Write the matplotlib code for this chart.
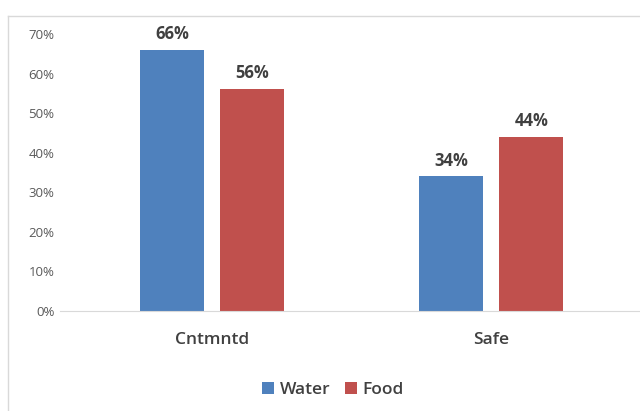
import matplotlib
matplotlib.use('Agg')
import matplotlib.pyplot as plt
from matplotlib.lines import Line2D
import numpy as np

# Chart data
categories = ['Cntmntd', 'Safe']
water = [0.66, 0.34]
food = [0.56, 0.44]
series_names = ['Water', 'Food']
yticks = [0, 0.1, 0.2, 0.3, 0.4, 0.5, 0.6, 0.7]

blue = '#4f81bd'
red = '#c0504d'
plt.rcParams['font.family'] = ['Open Sans', 'DejaVu Sans']

fig = plt.figure(figsize=(6.4, 4.11), dpi=100)
# outer chart border (partly cut off like the screenshot)
fig.add_artist(Line2D([8/640, 8/640], [0, 1 - 16/411], color='#d9d9d9', lw=1))
fig.add_artist(Line2D([8/640, 1], [1 - 16/411, 1 - 16/411], color='#d9d9d9', lw=1))

ax = fig.add_axes([60/640, 100/411, 580/640, 277/411])
x = np.arange(len(categories))
w = 0.229
off = 0.144
b1 = ax.bar(x - off, water, w, color=blue, label=series_names[0])
b2 = ax.bar(x + off, food, w, color=red, label=series_names[1])

for bars, vals in [(b1, water), (b2, food)]:
    for r, v in zip(bars, vals):
        ax.annotate('%d%%' % round(v * 100), (r.get_x() + r.get_width() / 2, v),
                    xytext=(0, 5), textcoords='offset points', ha='center', va='bottom',
                    fontsize=12, fontweight='bold', color='#404040', annotation_clip=False)

ax.set_xlim(-0.545, 1.534)
ax.set_ylim(0, 0.7)
ax.set_yticks(yticks)
ax.set_yticklabels(['%d%%' % round(t * 100) for t in yticks], fontsize=9.5, color='#595959')
ax.set_xticks(x)
ax.set_xticklabels(categories, fontsize=12.5, fontweight='semibold', color='#404040')
ax.tick_params(axis='x', length=0, pad=15)
ax.tick_params(axis='y', length=0, pad=4)
for s in ['top', 'right', 'left']:
    ax.spines[s].set_visible(False)
ax.spines['bottom'].set_color('#d9d9d9')

ax.legend(loc='center', bbox_to_anchor=(333/640, 21/411), bbox_transform=fig.transFigure,
          ncol=2, frameon=False, handlelength=0.7, handleheight=0.7, handletextpad=0.35,
          columnspacing=0.8, prop={'size': 12.5, 'weight': 'semibold'}, labelcolor='#404040')

fig.savefig('out.png', dpi=100)
